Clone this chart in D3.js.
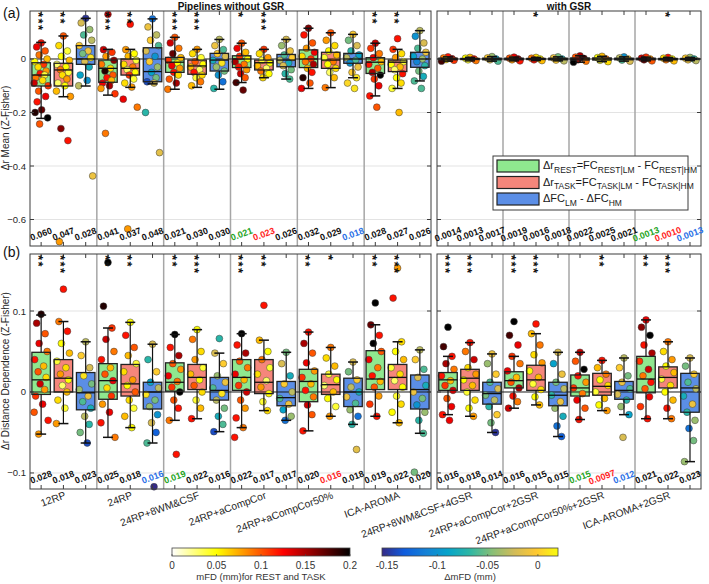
<!DOCTYPE html>
<html>
<head>
<meta charset="utf-8">
<script src="https://cdn.jsdelivr.net/npm/d3@7"></script>
<style>
body { margin: 0; background: #fff; }
svg text { font-family: "Liberation Sans", Arial, sans-serif; }
</style>
</head>
<body>
<svg id="fig" width="709" height="584"></svg>
<script>
// ---- data ----
var pipelinesNoGsr = ["12RP", "24RP", "24RP+8WM&CSF", "24RP+aCompCor", "24RP+aCompCor50%", "ICA-AROMA"];
var pipelinesGsr = ["24RP+8WM&CSF+4GSR", "24RP+aCompCor+2GSR", "24RP+aCompCor50%+2GSR", "ICA-AROMA+2GSR"];
var meanTicks = [-0.6, -0.4, -0.2, 0];
var distTicks = [-0.1, 0, 0.1];
var mfdTicks = [0, 0.05, 0.1, 0.15, 0.2];
var dmfdTicks = [-0.15, -0.1, -0.05, 0];

// box stats per position: [lowWhisker, q1, median, q3, highWhisker]; order REST, TASK, delta per pipeline
var meanNoGsrStats = [
  [-0.222, -0.101, -0.06, -0.014, 0.062], [-0.141, -0.101, -0.041, -0.016, 0.086], [-0.101, -0.02, 0, 0.05, 0.152],
  [-0.135, -0.087, -0.035, -0.004, 0.036], [-0.106, -0.06, -0.035, 0, 0.036], [-0.093, -0.085, -0.047, 0.042, 0.15],
  [-0.113, -0.05, -0.012, 0.006, 0.081], [-0.106, -0.057, -0.026, -0.004, 0.036], [-0.113, -0.045, -0.004, 0.021, 0.073],
  [-0.088, -0.032, 0, 0.012, 0.059], [-0.07, -0.041, -0.014, -0.004, 0.036], [-0.075, -0.029, -0.004, 0.017, 0.073],
  [-0.11, -0.032, 0, 0.034, 0.115], [-0.107, -0.035, -0.004, 0.025, 0.098], [-0.07, -0.016, 0, 0.021, 0.092],
  [-0.138, -0.054, -0.012, 0.005, 0.059], [-0.11, -0.047, -0.012, -0.004, 0.036], [-0.082, -0.031, 0, 0.025, 0.106]
];
var meanGsrStats = [
  [-0.008, -0.003, 0, 0.003, 0.008], [-0.007, -0.002, 0, 0.002, 0.006], [-0.008, -0.003, 0, 0.003, 0.009],
  [-0.007, -0.003, 0, 0.003, 0.007], [-0.006, -0.002, 0, 0.002, 0.006], [-0.007, -0.003, 0, 0.003, 0.008],
  [-0.012, -0.004, 0, 0.004, 0.012], [-0.01, -0.004, 0, 0.004, 0.01], [-0.008, -0.003, 0, 0.003, 0.008],
  [-0.007, -0.003, 0, 0.003, 0.007], [-0.007, -0.003, 0, 0.002, 0.006], [-0.006, -0.002, 0, 0.002, 0.006]
];
var distNoGsrStats = [
  [-0.052, -0.003, 0.015, 0.049, 0.095], [-0.039, 0, 0.017, 0.04, 0.087], [-0.063, -0.022, -0.001, 0.024, 0.062],
  [-0.056, -0.009, 0.014, 0.035, 0.079], [-0.044, -0.005, 0.01, 0.034, 0.086], [-0.063, -0.021, 0, 0.012, 0.059],
  [-0.035, 0.001, 0.012, 0.036, 0.071], [-0.033, 0.003, 0.018, 0.034, 0.077], [-0.049, -0.01, 0.002, 0.018, 0.048],
  [-0.044, 0.002, 0.018, 0.04, 0.072], [-0.023, -0.002, 0.012, 0.04, 0.064], [-0.035, -0.017, -0.007, 0.013, 0.049],
  [-0.048, -0.012, 0.013, 0.028, 0.074], [-0.03, -0.003, 0.009, 0.022, 0.055], [-0.04, -0.018, 0, 0.017, 0.037],
  [-0.03, 0.003, 0.016, 0.051, 0.083], [-0.038, 0.003, 0.018, 0.034, 0.062], [-0.051, -0.021, 0.003, 0.021, 0.052]
];
var distGsrStats = [
  [-0.028, 0.002, 0.015, 0.024, 0.044], [-0.03, 0.002, 0.017, 0.028, 0.061], [-0.05, -0.015, -0.002, 0.012, 0.047],
  [-0.02, 0.005, 0.014, 0.025, 0.044], [-0.016, 0.002, 0.015, 0.033, 0.072], [-0.055, -0.017, -0.004, 0.012, 0.049],
  [-0.034, -0.005, 0.005, 0.021, 0.049], [-0.023, -0.004, 0.007, 0.023, 0.039], [-0.028, -0.009, 0.002, 0.013, 0.042],
  [-0.033, -0.001, 0.016, 0.044, 0.089], [-0.033, 0.005, 0.018, 0.031, 0.062], [-0.086, -0.025, 0.005, 0.023, 0.042]
];

// subject points per box: [value, colour value]; colour value is mFD for REST/TASK and ΔmFD for delta
var meanNoGsrPts = [
  [[0.06,0.12],[0.045,0.13],[0.03,0.1],[0.015,0.09],[0,0.07],[-0.01,0.05],[-0.02,0.11],[-0.03,0.06],[-0.045,0.08],[-0.055,0.12],[-0.06,0.04],[-0.07,0.09],[-0.08,0.06],[-0.09,0.14],[-0.1,0.11],[-0.12,0.1],[-0.14,0.13],[-0.16,0.12],[-0.19,0.17],[-0.2,0.19],[-0.22,0.2],[-0.243,0.1]],
  [[0.086,0.1],[0.05,0.06],[0.03,0.04],[0.01,0.05],[-0.005,0.07],[-0.02,0.03],[-0.03,0.05],[-0.04,0.09],[-0.05,0.04],[-0.06,0.06],[-0.075,0.08],[-0.09,0.03],[-0.1,0.05],[-0.12,0.07],[-0.14,0.08],[-0.26,0.16],[-0.305,0.12],[-0.683,0.08]],
  [[0.152,-0.15],[0.135,-0.02],[0.11,-0.04],[0.09,-0.06],[0.07,-0.03],[0.05,0],[0.03,-0.01],[0.02,-0.05],[0.005,0.01],[-0.01,-0.02],[-0.03,-0.08],[-0.06,-0.09],[-0.08,-0.1],[-0.1,-0.03],[-0.437,-0.01]],
  [[0.167,0.14],[0.035,0.14],[0.025,0.11],[0.01,0.08],[-0.005,0.16],[-0.02,0.09],[-0.035,0.06],[-0.045,0.19],[-0.06,0.1],[-0.07,0.12],[-0.08,0.07],[-0.09,0.13],[-0.1,0.15],[-0.11,0.08],[-0.13,0.11],[-0.278,0.09]],
  [[0.13,0.12],[0.035,0.08],[0.02,0.05],[0.01,0.07],[-0.005,0.04],[-0.02,0.06],[-0.03,0.09],[-0.04,0.03],[-0.05,0.05],[-0.06,0.11],[-0.075,0.04],[-0.09,0.06],[-0.105,0.08],[-0.15,0.13],[-0.18,0.09],[-0.635,0.08]],
  [[0.15,-0.12],[0.12,-0.01],[0.09,-0.03],[0.07,0],[0.05,-0.06],[0.03,-0.02],[0.01,-0.1],[-0.01,0],[-0.03,-0.04],[-0.05,-0.09],[-0.07,-0.05],[-0.085,-0.14],[-0.09,-0.02],[-0.2,-0.07],[-0.35,-0.015]],
  [[0.081,0.1],[0.06,0.14],[0.04,0.09],[0.02,0.17],[0.005,0.07],[-0.005,0.11],[-0.015,0.05],[-0.025,0.13],[-0.035,0.08],[-0.05,0.12],[-0.06,0.06],[-0.075,0.1],[-0.09,0.15],[-0.113,0.09]],
  [[0.036,0.08],[0.02,0.06],[0.005,0.04],[-0.01,0.1],[-0.02,0.05],[-0.03,0.07],[-0.04,0.03],[-0.05,0.12],[-0.06,0.06],[-0.07,0.04],[-0.085,0.09],[-0.1,0.07]],
  [[0.073,-0.03],[0.05,-0.01],[0.035,-0.06],[0.02,0],[0.01,-0.02],[-0.005,-0.08],[-0.015,0.01],[-0.03,-0.04],[-0.045,-0.05],[-0.06,-0.1],[-0.085,-0.12],[-0.11,-0.07]],
  [[0.059,0.1],[0.04,0.13],[0.025,0.07],[0.01,0.11],[0,0.05],[-0.01,0.15],[-0.02,0.09],[-0.03,0.12],[-0.04,0.08],[-0.055,0.14],[-0.07,0.1],[-0.088,0.18],[-0.116,0.17]],
  [[0.036,0.11],[0.02,0.06],[0.005,0.08],[-0.005,0.04],[-0.015,0.05],[-0.025,0.07],[-0.035,0.03],[-0.045,0.09],[-0.055,0.05],[-0.07,0.06]],
  [[0.073,-0.02],[0.05,-0.04],[0.03,-0.01],[0.015,-0.06],[0.005,0],[-0.005,-0.03],[-0.015,-0.08],[-0.025,-0.02],[-0.04,-0.05],[-0.055,-0.07],[-0.075,-0.06]],
  [[0.115,0.16],[0.09,0.12],[0.06,0.1],[0.04,0.08],[0.025,0.13],[0.01,0.06],[0,0.11],[-0.01,0.09],[-0.02,0.15],[-0.035,0.07],[-0.05,0.12],[-0.07,0.19],[-0.09,0.1],[-0.11,0.13]],
  [[0.098,0.1],[0.07,0.08],[0.05,0.06],[0.03,0.05],[0.015,0.07],[0.005,0.04],[-0.01,0.09],[-0.02,0.05],[-0.035,0.06],[-0.05,0.03],[-0.07,0.07],[-0.107,0.09]],
  [[0.092,0],[0.07,-0.05],[0.05,-0.02],[0.03,-0.07],[0.015,-0.09],[0.005,-0.03],[-0.005,-0.06],[-0.015,-0.1],[-0.03,-0.01],[-0.05,0],[-0.07,0.01],[-0.09,0.005],[-0.11,0.01]],
  [[0.059,0.14],[0.04,0.11],[0.02,0.09],[0.005,0.13],[-0.01,0.07],[-0.02,0.12],[-0.035,0.1],[-0.05,0.15],[-0.06,0.2],[-0.075,0.11],[-0.1,0.13],[-0.138,0.12],[-0.18,0.1]],
  [[0.076,0.12],[0.036,0.11],[0.02,0.06],[0.005,0.08],[-0.01,0.04],[-0.02,0.05],[-0.03,0.07],[-0.04,0.03],[-0.055,0.12],[-0.07,0.05],[-0.09,0.06],[-0.11,0.04],[-0.2,0.07]],
  [[0.106,-0.03],[0.085,-0.1],[0.06,-0.02],[0.04,-0.06],[0.025,-0.01],[0.01,-0.09],[0,-0.04],[-0.01,-0.11],[-0.025,-0.07],[-0.045,-0.05],[-0.065,-0.08],[-0.082,-0.06],[-0.11,-0.06]]
];
var meanGsrPts = [
  [[0.008,0.12],[0.004,0.09],[0.001,0.15],[-0.002,0.06],[-0.005,0.11],[-0.008,0.18]],
  [[0.006,0.07],[0.003,0.05],[0,0.12],[-0.003,0.04],[-0.006,0.09]],
  [[0.009,-0.04],[0.004,0],[0,-0.09],[-0.003,-0.02],[-0.008,-0.06]],
  [[0.007,0.13],[0.003,0.1],[0,0.16],[-0.003,0.08],[-0.007,0.12]],
  [[0.006,0.06],[0.003,0.09],[0,0.05],[-0.003,0.12],[-0.006,0.07]],
  [[0.008,-0.05],[0.004,-0.01],[0,-0.08],[-0.004,0],[-0.007,-0.03]],
  [[0.012,0.15],[0.007,0.1],[0.002,0.18],[-0.003,0.12],[-0.008,0.09],[-0.012,0.2]],
  [[0.01,0.07],[0.005,0.05],[0,0.09],[-0.005,0.04],[-0.01,0.06]],
  [[0.008,-0.1],[0.004,-0.03],[0,0],[-0.004,-0.06],[-0.008,-0.02]],
  [[0.007,0.11],[0.003,0.14],[0,0.08],[-0.003,0.17],[-0.007,0.1]],
  [[0.006,0.12],[0.003,0.06],[0,0.05],[-0.003,0.09],[-0.007,0.07]],
  [[0.006,-0.04],[0.003,0],[0,-0.07],[-0.003,-0.01],[-0.006,-0.03]]
];
var distNoGsrPts = [
  [[0.096,0.19],[0.085,0.15],[0.072,0.1],[0.06,0.13],[0.05,0.09],[0.04,0.12],[0.032,0.07],[0.025,0.1],[0.018,0.06],[0.01,0.14],[0.003,0.08],[-0.005,0.11],[-0.015,0.13],[-0.025,0.1],[-0.035,0.12],[-0.052,0.08]],
  [[0.127,0.12],[0.087,0.09],[0.075,0.12],[0.06,0.05],[0.048,0.07],[0.038,0.04],[0.03,0.06],[0.022,0.08],[0.015,0.05],[0.008,0.03],[0,0.07],[-0.01,0.06],[-0.02,0.04],[-0.039,0.08]],
  [[0.062,-0.03],[0.045,0],[0.03,-0.02],[0.02,0.01],[0.01,-0.05],[0.003,-0.04],[-0.005,-0.01],[-0.012,-0.06],[-0.02,-0.08],[-0.03,-0.03],[-0.04,-0.07],[-0.05,-0.05],[-0.063,-0.14]],
  [[0.16,0.2],[0.106,0.19],[0.079,0.11],[0.065,0.14],[0.05,0.09],[0.04,0.12],[0.03,0.07],[0.022,0.1],[0.014,0.13],[0.005,0.06],[-0.005,0.11],[-0.015,0.08],[-0.025,0.13],[-0.038,0.12],[-0.056,0.09]],
  [[0.086,0.05],[0.07,0.12],[0.055,0.1],[0.045,0.07],[0.035,0.04],[0.025,0.06],[0.015,0.08],[0.008,0.05],[0,0.1],[-0.01,0.06],[-0.02,0.04],[-0.03,0.07],[-0.044,0.05]],
  [[0.059,-0.02],[0.04,-0.07],[0.025,0],[0.012,-0.09],[0.005,-0.03],[-0.003,0.01],[-0.01,-0.05],[-0.018,-0.04],[-0.028,-0.1],[-0.038,-0.02],[-0.05,-0.13],[-0.063,-0.06],[-0.117,-0.155]],
  [[0.071,0.2],[0.055,0.12],[0.045,0.15],[0.035,0.1],[0.028,0.08],[0.02,0.13],[0.013,0.09],[0.006,0.11],[0,0.2],[-0.01,0.1],[-0.02,0.12],[-0.035,0.09],[-0.077,0.12]],
  [[0.077,0.05],[0.065,0.09],[0.05,0.06],[0.04,0.08],[0.03,0.04],[0.022,0.07],[0.015,0.05],[0.008,0.1],[0,0.06],[-0.01,0.04],[-0.02,0.07],[-0.033,0.12]],
  [[0.066,-0.07],[0.048,-0.02],[0.035,0],[0.02,-0.04],[0.012,-0.01],[0.005,-0.06],[-0.002,0.01],[-0.01,-0.03],[-0.02,-0.05],[-0.03,-0.08],[-0.04,-0.06],[-0.049,-0.14]],
  [[0.072,0.2],[0.058,0.12],[0.048,0.15],[0.038,0.1],[0.03,0.09],[0.022,0.13],[0.015,0.07],[0.008,0.11],[0,0.14],[-0.01,0.1],[-0.02,0.08],[-0.032,0.12],[-0.044,0.09],[-0.056,0.12]],
  [[0.107,0.12],[0.064,0.07],[0.05,0.05],[0.04,0.09],[0.03,0.04],[0.022,0.06],[0.014,0.03],[0.006,0.08],[-0.002,0.05],[-0.012,0.04],[-0.023,0.06]],
  [[0.049,-0.05],[0.035,-0.02],[0.02,-0.08],[0.01,0],[0,-0.03],[-0.008,-0.06],[-0.015,-0.01],[-0.022,-0.09],[-0.03,-0.04],[-0.035,-0.12]],
  [[0.074,0.12],[0.06,0.15],[0.048,0.1],[0.036,0.13],[0.026,0.08],[0.018,0.11],[0.01,0.07],[0.002,0.12],[-0.006,0.09],[-0.016,0.14],[-0.028,0.1],[-0.048,0.12]],
  [[0.055,0.09],[0.042,0.06],[0.032,0.07],[0.022,0.04],[0.015,0.05],[0.008,0.03],[0,0.07],[-0.008,0.05],[-0.018,0.04],[-0.03,0.08]],
  [[0.037,-0.02],[0.025,-0.05],[0.015,0],[0.006,-0.03],[0,-0.08],[-0.006,-0.01],[-0.014,-0.06],[-0.022,-0.04],[-0.03,-0.12],[-0.04,-0.07],[-0.071,-0.015]],
  [[0.11,0.2],[0.083,0.17],[0.07,0.12],[0.06,0.2],[0.05,0.1],[0.04,0.13],[0.03,0.09],[0.02,0.12],[0.013,0.07],[0.006,0.1],[-0.005,0.08],[-0.015,0.11],[-0.03,0.12]],
  [[0.153,0.08],[0.116,0.12],[0.062,0.06],[0.05,0.05],[0.04,0.07],[0.03,0.04],[0.022,0.06],[0.014,0.03],[0.006,0.05],[-0.005,0.04],[-0.015,0.06],[-0.025,0.05],[-0.038,0.07]],
  [[0.052,-0.03],[0.04,0],[0.028,-0.06],[0.018,-0.02],[0.008,-0.08],[0,-0.01],[-0.008,-0.05],[-0.016,-0.1],[-0.025,-0.04],[-0.035,-0.07],[-0.051,-0.06],[-0.099,-0.05]]
];
var distGsrPts = [
  [[0.08,0.2],[0.056,0.18],[0.044,0.12],[0.035,0.15],[0.028,0.09],[0.02,0.12],[0.014,0.07],[0.008,0.11],[0.002,0.14],[-0.008,0.1],[-0.018,0.13],[-0.028,0.12],[-0.035,0.13]],
  [[0.061,0.12],[0.05,0.09],[0.04,0.14],[0.03,0.06],[0.022,0.08],[0.015,0.05],[0.008,0.07],[0,0.04],[-0.01,0.06],[-0.02,0.05],[-0.03,0.08]],
  [[0.047,-0.01],[0.035,-0.04],[0.022,0],[0.012,-0.06],[0.004,-0.02],[-0.004,-0.05],[-0.01,-0.03],[-0.018,-0.07],[-0.028,0],[-0.038,-0.05],[-0.05,-0.15]],
  [[0.087,0.2],[0.07,0.18],[0.058,0.13],[0.044,0.11],[0.035,0.09],[0.026,0.13],[0.018,0.07],[0.012,0.1],[0.005,0.15],[-0.005,0.12],[-0.012,0.09],[-0.02,0.14]],
  [[0.084,0.12],[0.072,0.07],[0.058,0.09],[0.046,0.06],[0.036,0.08],[0.026,0.05],[0.018,0.07],[0.01,0.04],[0.003,0.06],[-0.006,0.05],[-0.016,0.07]],
  [[0.049,-0.02],[0.035,-0.09],[0.022,-0.01],[0.012,-0.05],[0.004,-0.03],[-0.004,-0.07],[-0.012,-0.01],[-0.02,-0.04],[-0.03,-0.08],[-0.042,-0.12],[-0.055,-0.13]],
  [[0.049,0.14],[0.038,0.1],[0.028,0.2],[0.02,0.12],[0.012,0.08],[0.005,0.11],[-0.002,0.09],[-0.01,0.13],[-0.02,0.1],[-0.034,0.12]],
  [[0.039,0.12],[0.03,0.07],[0.022,0.09],[0.015,0.05],[0.008,0.06],[0,0.04],[-0.008,0.07],[-0.016,0.05],[-0.023,0.08]],
  [[0.042,-0.03],[0.03,0],[0.02,-0.05],[0.012,-0.01],[0.004,-0.06],[-0.003,-0.02],[-0.01,-0.07],[-0.018,-0.04],[-0.028,-0.09],[-0.056,-0.02]],
  [[0.089,0.13],[0.08,0.16],[0.07,0.2],[0.058,0.12],[0.048,0.15],[0.038,0.11],[0.028,0.14],[0.02,0.09],[0.012,0.12],[0.004,0.1],[-0.006,0.13],[-0.018,0.11],[-0.033,0.12]],
  [[0.062,0.09],[0.05,0.06],[0.04,0.08],[0.032,0.05],[0.024,0.07],[0.016,0.04],[0.008,0.06],[0,0.05],[-0.01,0.07],[-0.02,0.12],[-0.033,0.09]],
  [[0.042,-0.02],[0.032,-0.05],[0.022,0],[0.012,-0.06],[0.004,-0.03],[-0.005,-0.08],[-0.015,-0.01],[-0.025,-0.07],[-0.035,-0.04],[-0.045,-0.12],[-0.06,-0.05],[-0.086,-0.04]]
];

// numbers printed at the bottom of each box, and which one is coloured
var meanNoGsrLabels = ["0.060","0.047","0.028","0.041","0.037","0.048","0.021","0.030","0.030","0.021","0.023","0.026","0.032","0.029","0.018","0.028","0.027","0.026"];
var meanGsrLabels = ["0.0014","0.0013","0.0017","0.0019","0.0016","0.0018","0.0022","0.0025","0.0021","0.0013","0.0010","0.0013"];
var distNoGsrLabels = ["0.028","0.018","0.023","0.025","0.018","0.016","0.019","0.022","0.016","0.022","0.017","0.017","0.020","0.016","0.018","0.019","0.022","0.020"];
var distGsrLabels = ["0.016","0.018","0.014","0.016","0.015","0.015","0.015","0.0097","0.012","0.021","0.022","0.023"];
var meanNoGsrBest = [9, 10, 14];
var meanGsrBest = [9, 10, 11];
var distNoGsrBest = [6, 13, 5];
var distGsrBest = [6, 7, 8];

// number of significance stars above each box
var meanNoGsrStars = [3,2,0,3,2,0,3,3,0,1,3,0,0,0,0,2,2,0];
var meanGsrStars = [0,0,0,0,1,0,0,0,0,0,1,0];
var distNoGsrStars = [2,3,0,2,2,0,2,3,0,3,2,0,2,1,0,2,3,0];
var distGsrStars = [3,3,0,3,3,0,0,2,0,2,3,0];

// ---- drawing ----
var svg = d3.select("#fig");
var boxFill = ["#8fe88f", "#f5867b", "#5b8ee6"];
var bestColor = ["#1fa51f", "#ff1f1f", "#2a6fe6"];
var jitter = [0, -4.5, 4, -2, 6, -6.5, 2.5, -3, 5, -1, 3.5, -5.5, 1.5, -7, 7, -2.5, 4.5, -4, 0.5, -6, 6.5, -1.5];

var mfdColor = d3.scaleLinear()
  .domain([0, 0.05, 0.125, 0.2])
  .range(["#ffffff", "#ffff00", "#ff0000", "#000000"])
  .clamp(true);
var parula = ["#352a87", "#0f5cdd", "#1481d6", "#06a4ca", "#2eb7a4", "#87bf77", "#d1bb59", "#fec832", "#f9fb0e"];
var dmfdColor = d3.scaleLinear()
  .domain(parula.map(function(d, i) { return -0.155 + i * 0.175 / (parula.length - 1); }))
  .range(parula)
  .clamp(true);

var xNo = d3.scaleLinear().domain([0.5, 18.5]).range([30, 431]);
var xGsr = d3.scaleLinear().domain([0.5, 12.5]).range([437, 701]);
var yMean = d3.scaleLinear().domain([-0.699, 0.1794]).range([246, 11]);
var yDist = d3.scaleLinear().domain([-0.1198, 0.1704]).range([489, 254]);

function drawPanel(x, y, ticks, stats, pts, labels, best, stars, showY) {
  var g = svg.append("g");
  var xr = x.range(), yr = y.range();
  var n = stats.length;

  // grid lines
  ticks.forEach(function(t) {
    if (t === 0) return;
    g.append("line").attr("x1", xr[0]).attr("x2", xr[1])
      .attr("y1", y(t)).attr("y2", y(t))
      .attr("stroke", "#e3e3e3").attr("stroke-width", 1);
  });
  // group separators
  for (var k = 3; k < n; k += 3) {
    g.append("line").attr("x1", x(k + 0.5)).attr("x2", x(k + 0.5))
      .attr("y1", yr[1]).attr("y2", yr[0])
      .attr("stroke", "#a6a6a6").attr("stroke-width", 1.5);
  }

  // box fills
  g.selectAll(".bf").data(stats).enter().append("rect")
    .attr("x", function(d, i) { return x(i + 1) - 9.25; })
    .attr("width", 18.5)
    .attr("y", function(d) { return y(d[3]); })
    .attr("height", function(d) { return y(d[1]) - y(d[3]); })
    .attr("fill", function(d, i) { return boxFill[i % 3]; });

  // zero line
  g.append("line").attr("x1", xr[0]).attr("x2", xr[1])
    .attr("y1", y(0)).attr("y2", y(0))
    .attr("stroke", "#1a1a1a").attr("stroke-width", 1);

  // points
  pts.forEach(function(list, i) {
    var col = (i % 3 === 2) ? dmfdColor : mfdColor;
    g.selectAll(null).data(list).enter().append("circle")
      .attr("cx", function(d, j) { return x(i + 1) + jitter[j % jitter.length]; })
      .attr("cy", function(d) { return y(d[0]); })
      .attr("r", 3.4)
      .attr("fill", function(d) { return col(d[1]); })
      .attr("stroke", "#3a3a3a").attr("stroke-width", 0.5);
  });

  // box outlines, medians, whiskers
  stats.forEach(function(d, i) {
    var cx = x(i + 1);
    g.append("rect").attr("x", cx - 9.25).attr("width", 18.5)
      .attr("y", y(d[3])).attr("height", y(d[1]) - y(d[3]))
      .attr("fill", "none").attr("stroke", "#222").attr("stroke-width", 1.3);
    g.append("line").attr("x1", cx - 9.25).attr("x2", cx + 9.25)
      .attr("y1", y(d[2])).attr("y2", y(d[2]))
      .attr("stroke", "#111").attr("stroke-width", 1.3);
    g.append("line").attr("x1", cx).attr("x2", cx)
      .attr("y1", y(d[4])).attr("y2", y(d[3]))
      .attr("stroke", "#111").attr("stroke-width", 1.2);
    g.append("line").attr("x1", cx).attr("x2", cx)
      .attr("y1", y(d[1])).attr("y2", y(d[0]))
      .attr("stroke", "#111").attr("stroke-width", 1.2);
    [d[0], d[4]].forEach(function(v) {
      g.append("line").attr("x1", cx - 5).attr("x2", cx + 5)
        .attr("y1", y(v)).attr("y2", y(v))
        .attr("stroke", "#111").attr("stroke-width", 1.5);
    });
  });

  // frame
  g.append("rect").attr("x", xr[0]).attr("y", yr[1])
    .attr("width", xr[1] - xr[0]).attr("height", yr[0] - yr[1])
    .attr("fill", "none").attr("stroke", "#3c3c3c").attr("stroke-width", 1);

  // ticks (inward, all four sides)
  d3.range(1, n + 1).forEach(function(p) {
    g.append("line").attr("x1", x(p)).attr("x2", x(p)).attr("y1", yr[1]).attr("y2", yr[1] + 4).attr("stroke", "#3c3c3c");
    g.append("line").attr("x1", x(p)).attr("x2", x(p)).attr("y1", yr[0]).attr("y2", yr[0] - 4).attr("stroke", "#3c3c3c");
  });
  ticks.forEach(function(t) {
    g.append("line").attr("x1", xr[0]).attr("x2", xr[0] + 4).attr("y1", y(t)).attr("y2", y(t)).attr("stroke", "#3c3c3c");
    g.append("line").attr("x1", xr[1]).attr("x2", xr[1] - 4).attr("y1", y(t)).attr("y2", y(t)).attr("stroke", "#3c3c3c");
    if (showY) {
      g.append("text").attr("x", xr[0] - 4).attr("y", y(t) + 3.5)
        .attr("text-anchor", "end").attr("font-size", 9.5).attr("fill", "#262626")
        .text(t === 0 ? "0" : d3.format("")(t));
    }
  });

  // significance stars: one vertical run of asterisks per box
  stars.forEach(function(s, i) {
    if (!s) return;
    g.append("text")
      .attr("transform", "translate(" + (x(i + 1) - 7.2) + "," + (yr[1] + 1) + ") rotate(90)")
      .attr("font-size", 13).attr("font-weight", "bold").attr("letter-spacing", 1.45)
      .attr("fill", "#111")
      .text("*".repeat(s));
  });

  // values at the bottom
  labels.forEach(function(s, i) {
    var c = best.indexOf(i) >= 0 ? bestColor[i % 3] : "#111";
    g.append("text")
      .attr("transform", "translate(" + (x(i + 1) + 1) + "," + (yr[0] - 9) + ") rotate(-20)")
      .attr("text-anchor", "middle").attr("font-size", 9).attr("font-weight", "bold")
      .attr("fill", c).text(s);
  });
}

drawPanel(xNo, yMean, meanTicks, meanNoGsrStats, meanNoGsrPts, meanNoGsrLabels, meanNoGsrBest, meanNoGsrStars, true);
drawPanel(xGsr, yMean, meanTicks, meanGsrStats, meanGsrPts, meanGsrLabels, meanGsrBest, meanGsrStars, false);
drawPanel(xNo, yDist, distTicks, distNoGsrStats, distNoGsrPts, distNoGsrLabels, distNoGsrBest, distNoGsrStars, true);
drawPanel(xGsr, yDist, distTicks, distGsrStats, distGsrPts, distGsrLabels, distGsrBest, distGsrStars, false);

// titles, panel letters, axis titles
svg.append("text").attr("x", 231).attr("y", 10).attr("text-anchor", "middle")
  .attr("font-size", 10).attr("font-weight", "bold").attr("fill", "#111").text("Pipelines without GSR");
svg.append("text").attr("x", 569).attr("y", 10).attr("text-anchor", "middle")
  .attr("font-size", 10).attr("font-weight", "bold").attr("fill", "#111").text("with GSR");
svg.append("text").attr("x", 3).attr("y", 18).attr("font-size", 14).attr("fill", "#111").text("(a)");
svg.append("text").attr("x", 3).attr("y", 257).attr("font-size", 14).attr("fill", "#111").text("(b)");
svg.append("text").attr("transform", "translate(9,128) rotate(-90)").attr("text-anchor", "middle")
  .attr("font-size", 10).attr("fill", "#262626").text("Δr Mean (Z-Fisher)");
svg.append("text").attr("transform", "translate(9,371) rotate(-90)").attr("text-anchor", "middle")
  .attr("font-size", 10).attr("fill", "#262626").text("Δr Distance Dependence (Z-Fisher)");

// pipeline labels
pipelinesNoGsr.forEach(function(p, k) {
  svg.append("text").attr("transform", "translate(" + (xNo(3 * k + 2) + 3) + ",498) rotate(-20)")
    .attr("text-anchor", "end").attr("font-size", 10.3).attr("fill", "#262626").text(p);
});
pipelinesGsr.forEach(function(p, k) {
  svg.append("text").attr("transform", "translate(" + (xGsr(3 * k + 2) + 3) + ",498) rotate(-20)")
    .attr("text-anchor", "end").attr("font-size", 10.3).attr("fill", "#262626").text(p);
});

// legend
var lg = svg.append("g");
lg.append("rect").attr("x", 493).attr("y", 156).attr("width", 195).attr("height", 54)
  .attr("fill", "#fff").attr("stroke", "#3c3c3c");
var legendRows = [
  [["Δr", 0], ["REST", 1], ["=FC", 0], ["REST|LM", 1], [" - FC", 0], ["REST|HM", 1]],
  [["Δr", 0], ["TASK", 1], ["=FC", 0], ["TASK|LM", 1], [" - FC", 0], ["TASK|HM", 1]],
  [["ΔFC", 0], ["LM", 1], [" - ΔFC", 0], ["HM", 1]]
];
legendRows.forEach(function(row, i) {
  var cy = 166 + i * 16.5;
  lg.append("rect").attr("x", 497).attr("y", cy - 6).attr("width", 42).attr("height", 12)
    .attr("fill", boxFill[i]).attr("stroke", "#222").attr("stroke-width", 1.2);
  var t = lg.append("text").attr("x", 543).attr("y", cy + 3).attr("fill", "#1a1a1a").attr("font-size", 11);
  var down = false;
  row.forEach(function(part) {
    var ts = t.append("tspan").text(part[0]);
    if (part[1] && !down) { ts.attr("dy", 3.5); down = true; }
    if (!part[1] && down) { ts.attr("dy", -3.5); down = false; }
    ts.attr("font-size", part[1] ? 8.5 : 11);
  });
});

// colour bars
function colorBar(id, scale, x0, x1, domain, ticks, title) {
  var grad = svg.append("defs").append("linearGradient").attr("id", id);
  d3.range(0, 41).forEach(function(i) {
    var v = domain[0] + (domain[1] - domain[0]) * i / 40;
    grad.append("stop").attr("offset", (i / 40 * 100) + "%").attr("stop-color", scale(v));
  });
  var xs = d3.scaleLinear().domain(domain).range([x0, x1]);
  svg.append("rect").attr("x", x0).attr("y", 548).attr("width", x1 - x0).attr("height", 8)
    .attr("fill", "url(#" + id + ")").attr("stroke", "#444").attr("stroke-width", 0.8);
  ticks.forEach(function(t) {
    svg.append("line").attr("x1", xs(t)).attr("x2", xs(t)).attr("y1", 556).attr("y2", 554)
      .attr("stroke", "#444").attr("stroke-width", 0.6);
    svg.append("text").attr("x", xs(t)).attr("y", 569).attr("text-anchor", "middle")
      .attr("font-size", 10).attr("fill", "#333").text(t);
  });
  svg.append("text").attr("x", (x0 + x1) / 2).attr("y", 580).attr("text-anchor", "middle")
    .attr("font-size", 9.5).attr("fill", "#333").text(title);
}
colorBar("gMfd", mfdColor, 172, 350, [0, 0.2], mfdTicks, "mFD (mm)for REST and TASK");
colorBar("gDmfd", dmfdColor, 382, 558, [-0.155, 0.02], dmfdTicks, "ΔmFD (mm)");
</script>
</body>
</html>
